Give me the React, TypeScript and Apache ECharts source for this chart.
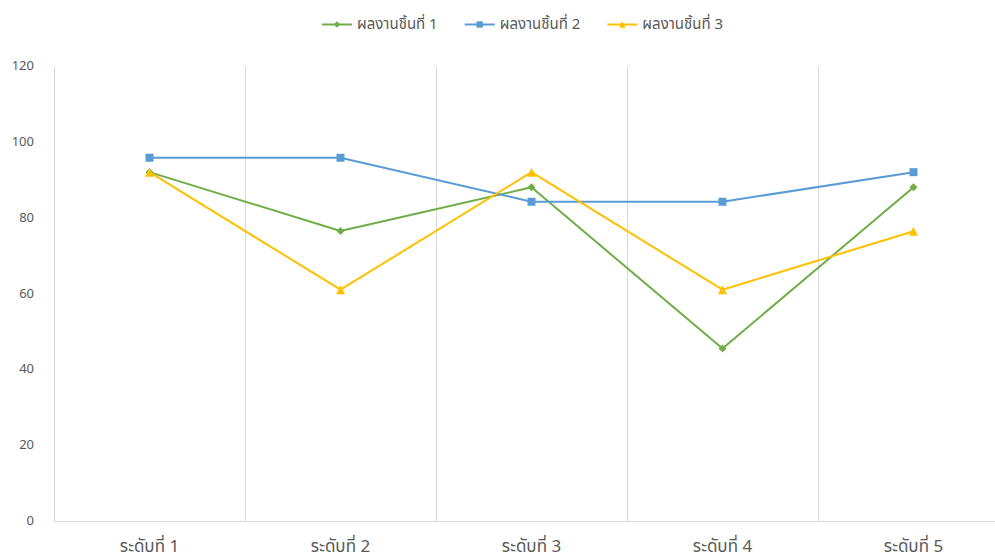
import React, { useEffect, useRef } from "react";
import * as echarts from "echarts";

const categories = ["ระดับที่ 1", "ระดับที่ 2", "ระดับที่ 3", "ระดับที่ 4", "ระดับที่ 5"];
const seriesNames = ["ผลงานชิ้นที่ 1", "ผลงานชิ้นที่ 2", "ผลงานชิ้นที่ 3"];
const work1 = [92, 76.5, 88, 45.5, 88];
const work2 = [95.8, 95.8, 84.2, 84.2, 92];
const work3 = [92, 61, 92, 61, 76.4];
const yTicks = { min: 0, max: 120, interval: 20 };

const FONT = "'Noto Sans Thai', 'Noto Sans', 'DejaVu Sans', sans-serif";

export default function App() {
  const ref = useRef<HTMLDivElement>(null);
  useEffect(() => {
    const chart = echarts.init(ref.current!, undefined, { renderer: "svg" });
    const mk = (name: string, data: number[], color: string, symbol: string, size: number) => ({
      name,
      type: "line",
      data,
      symbol,
      symbolSize: size,
      showAllSymbol: true,
      lineStyle: { color, width: 2 },
      itemStyle: { color },
    });
    chart.setOption({
      animation: false,
      backgroundColor: "#ffffff",
      textStyle: { fontFamily: FONT },
      legend: {
        top: 12,
        left: 316,
        itemWidth: 30,
        itemHeight: 8,
        itemGap: 26,
        textStyle: { color: "#595959", fontSize: 15, fontFamily: FONT },
        data: seriesNames,
      },
      grid: { left: 54, top: 66, right: 3, bottom: 39 },
      xAxis: {
        type: "category",
        data: categories,
        boundaryGap: true,
        axisLine: { show: true, lineStyle: { color: "#d9d9d9", width: 1 } },
        axisTick: { show: false },
        splitLine: { show: true, lineStyle: { color: "#d9d9d9", width: 1 } },
        axisLabel: { color: "#595959", fontSize: 17, margin: 17, fontFamily: FONT },
      },
      yAxis: {
        type: "value",
        min: yTicks.min,
        max: yTicks.max,
        interval: yTicks.interval,
        axisLine: { show: false },
        axisTick: { show: false },
        splitLine: { show: false },
        axisLabel: { color: "#595959", fontSize: 13, margin: 20, fontFamily: FONT },
      },
      series: [
        mk(seriesNames[0], work1, "#70ad47", "diamond", 8),
        mk(seriesNames[1], work2, "#5b9bd5", "rect", 8),
        mk(seriesNames[2], work3, "#ffc000", "triangle", 9),
      ],
    });
    return () => chart.dispose();
  }, []);
  return (
    <div
      style={{ position: "fixed", left: 0, top: 0, width: 995, height: 560, overflow: "hidden", background: "#fff" }}
    >
      <div ref={ref} style={{ width: 1012, height: 560 }} />
    </div>
  );
}
